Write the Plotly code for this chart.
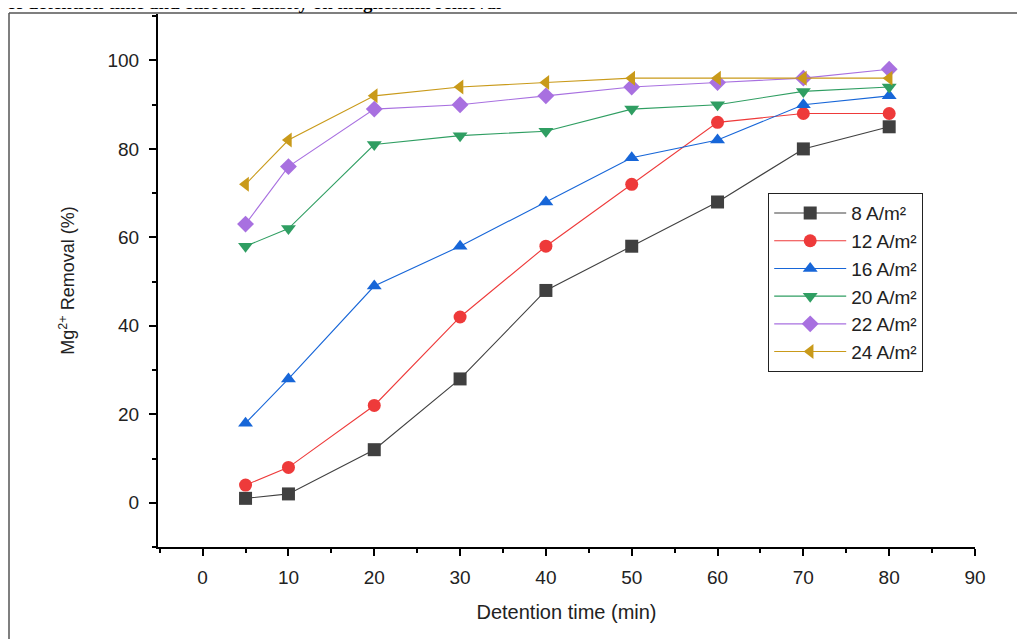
import plotly.graph_objects as go

time_min = [5, 10, 20, 30, 40, 50, 60, 70, 80]
s8 = [1, 2, 12, 28, 48, 58, 68, 80, 85]
s12 = [4, 8, 22, 42, 58, 72, 86, 88, 88]
s16 = [18, 28, 49, 58, 68, 78, 82, 90, 92]
s20 = [58, 62, 81, 83, 84, 89, 90, 93, 94]
s22 = [63, 76, 89, 90, 92, 94, 95, 96, 98]
s24 = [72, 82, 92, 94, 95, 96, 96, 96, 96]
names = ["8 A/m²", "12 A/m²", "16 A/m²", "20 A/m²", "22 A/m²", "24 A/m²"]
series = [s8, s12, s16, s20, s22, s24]
colors = ["#404040", "#ee3a3a", "#1766d8", "#2f9e62", "#a870e0", "#c99a1a"]
symbols = ["square", "circle", "triangle-up", "triangle-down", "diamond", "triangle-left"]
x_ticks = list(range(0, 91, 10))
y_ticks = list(range(0, 101, 20))

# page body has an 8px margin
OFF = 8
W, H = 1025 - OFF, 639 - OFF
L, T, B = 158 - OFF, 14 - OFF, 92
R = W - L - (975 - 158)
pw, ph = W - L - R, H - T - B


def px(page_x):
    return (page_x - OFF - L) / pw


def py(page_y):
    return (H - B - (page_y - OFF)) / ph


fig = go.Figure()
for n, s, c, sym in zip(names, series, colors, symbols):
    fig.add_trace(go.Scatter(
        x=time_min, y=s, name=n, mode="lines+markers",
        line=dict(color=c, width=1.1),
        marker=dict(symbol=sym, size=13, color=c),
    ))

axis_font = dict(family="Liberation Sans, Arial", size=19, color="#222")
fig.update_layout(
    width=W, height=H,
    margin=dict(l=L, r=R, t=T, b=B, autoexpand=False),
    paper_bgcolor="white", plot_bgcolor="white",
    showlegend=True,
    legend=dict(
        x=px(768), y=py(193), xanchor="left", yanchor="top",
        bgcolor="white", bordercolor="#222", borderwidth=1.2,
        font=dict(family="Liberation Sans, Arial", size=19, color="#222"),
        itemwidth=72, tracegroupgap=0,
    ),
    xaxis=dict(
        range=[-5.2, 90], tickvals=x_ticks, ticks="outside", ticklen=7, tickwidth=2,
        tickcolor="black", showline=True, linecolor="black", linewidth=2,
        showgrid=False, zeroline=False, tickfont=axis_font, automargin=False,
        ticklabelstandoff=5,
        minor=dict(dtick=5, tick0=0, ticks="outside", ticklen=4, tickwidth=2, tickcolor="black"),
        title=dict(text="Detention time (min)", font=dict(family="Liberation Sans, Arial", size=20, color="#222"), standoff=18),
    ),
    yaxis=dict(
        range=[-10, 110.5], tickvals=y_ticks, ticks="outside", ticklen=7, tickwidth=2,
        tickcolor="black", showline=True, linecolor="black", linewidth=2,
        showgrid=False, zeroline=False, tickfont=axis_font, automargin=False,
        ticklabelstandoff=6,
        minor=dict(dtick=10, tick0=0, ticks="outside", ticklen=4, tickwidth=2, tickcolor="black"),
        title=dict(text="Mg<sup>2+</sup> Removal (%)", font=dict(family="Liberation Sans, Arial", size=18, color="#222"), standoff=28),
    ),
)

# outer frame lines (top and left)
fig.add_shape(type="line", xref="paper", yref="paper",
              x0=px(9), x1=px(1030), y0=py(13), y1=py(13),
              line=dict(color="#555", width=1.5))
fig.add_shape(type="line", xref="paper", yref="paper",
              x0=px(9), x1=px(9), y0=py(13), y1=py(645),
              line=dict(color="#555", width=1.5))

# cut-off caption at top
fig.add_annotation(
    text="<b>of detention time and current density on magnesium removal</b>",
    xref="paper", yref="paper", x=px(5), y=py(15),
    xanchor="left", yanchor="bottom", showarrow=False,
    font=dict(family="Liberation Serif, Times New Roman", size=19, color="black"),
)

fig.write_html("out.html")
